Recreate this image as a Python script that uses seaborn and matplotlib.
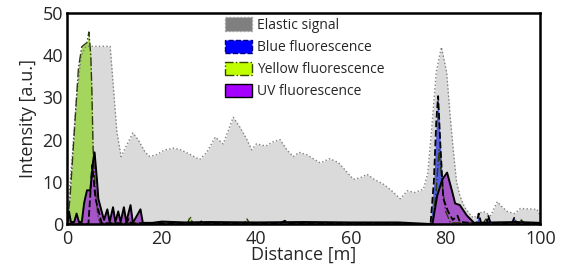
import numpy as np
import seaborn as sns
import matplotlib.pyplot as plt
from matplotlib.patches import Patch

sns.set_style('white')
plt.rcParams['font.family'] = ['Open Sans', 'DejaVu Sans']

# elastic signal
elastic_x = [0, 1, 2, 3, 4, 5, 9.1, 9.6, 10.5, 11.4, 12.5, 13.9, 15, 16.5, 17.5, 19, 20.5, 22.4,
             24, 26, 28, 29.5, 31.3, 33, 35.1, 36.5, 38, 39, 40, 42, 43.5, 45, 46.5, 47.8, 49,
             50.7, 52, 53.5, 55.5, 57.3, 59, 60.5, 62, 63.4, 65, 66.8, 68.5, 70.4, 71.9, 73.5,
             75.3, 76.2, 77, 78, 79.1, 80.2, 81, 81.6, 82.3, 83, 84, 85, 85.9, 87, 88, 89.5,
             90.9, 92, 93, 94.5, 95.8, 97.5, 99.3, 100]
elastic_y = [2, 15, 30, 40, 42.1, 42.1, 42.1, 35, 22, 16, 18.5, 21.6, 20, 17, 16, 16.5, 17.5, 18,
             17.6, 16.5, 15.3, 17, 20.6, 19, 25.3, 23, 20, 17.6, 19, 18.5, 19.5, 20, 17.5, 16, 17,
             16.4, 15.5, 14.5, 15.5, 14.6, 12.5, 10.6, 11, 11.8, 10.5, 9.5, 8, 6, 7.9, 7.5,
             8.3, 12, 22, 36, 41.9, 36, 25, 17.6, 10, 6.7, 4, 2.5, 1.4, 2.5, 3, 2,
             5.3, 4, 3, 2.5, 3.7, 3.6, 3.5, 2]

# yellow fluorescence
yellow_x = [0, 0.6, 1.7, 2.4, 3.1, 4.2, 4.6, 5.0, 5.2, 5.5, 5.9, 6.5, 7, 20, 25.5, 26, 26.5, 30,
            37.5, 38, 38.5, 60, 77.2, 78, 78.6, 79.2, 80, 81, 88, 88.5, 89, 95.5, 96, 96.5, 100]
yellow_y = [0, 6, 25, 37, 42, 43, 45.5, 40, 33, 17.6, 9, 2, 0.2, 0.3, 0.3, 1.8, 0.3, 0.3,
            0.3, 1.2, 0.3, 0.3, 0, 8, 17.6, 10, 3, 0.3, 0.3, 1.2, 0.3, 0.3, 1, 0.3, 0.3]

# blue fluorescence
blue_x = [0, 4.5, 5.3, 6, 7.3, 12.5, 13, 13.5, 28, 28.5, 29, 45, 46, 47, 76.8, 77.5, 78.0, 78.4,
          78.9, 79.5, 80.5, 81.5, 82.5, 83, 86.5, 87, 87.5, 88.7, 89, 89.5, 94, 94.5, 95, 100]
blue_y = [0, 0, 14, 6, 0.2, 0.2, 1.2, 0.2, 0.2, 0.8, 0.2, 0.2, 0.8, 0.2, 0, 10, 24, 30.3,
          18.3, 6, 3, 1, 2, 0.5, 0.2, 2.5, 0.2, 0.2, 2, 0.2, 0.2, 1.5, 0.2, 0.2]

# UV fluorescence
uv_x = [0, 0.4, 0.8, 1.5, 2, 2.5, 3.1, 3.6, 4.2, 4.9, 5.5, 5.8, 6.3, 6.6, 7.3, 7.8, 8.5, 9,
        9.7, 10.2, 10.8, 11.3, 12, 12.5, 13.4, 13.9, 15.5, 16, 18, 20, 25, 30, 40, 50, 60,
        70, 77.2, 78.2, 79.3, 80.3, 81.4, 82, 83, 84.5, 86, 90, 95, 100]
uv_y = [0, 3, 0.5, 0.5, 2.5, 0.5, 0.5, 5, 8, 8, 15, 17, 10.6, 6, 3, 1, 3.5, 0.5,
        4, 0.5, 3, 0.5, 4, 0.5, 4.5, 0.3, 3.5, 0.3, 0.3, 0.6, 0.4, 0.5, 0.4, 0.5, 0.4,
        0.4, 0, 6.7, 10.6, 12.2, 7.6, 4.9, 4.5, 2, 0.3, 0.4, 0.5, 0.3]

fig, ax = plt.subplots(figsize=(5.64, 2.76), dpi=100)

# fills first, edges on top
ax.fill_between(elastic_x, elastic_y, color='#dadada', lw=0)
ax.fill_between(yellow_x, yellow_y, color='#a4d65e', lw=0)
ax.fill_between(blue_x, blue_y, color='#5560e0', lw=0)
ax.fill_between(uv_x, uv_y, color='#a655c8', lw=0)

sns.lineplot(x=elastic_x, y=elastic_y, ax=ax, color='#808080', lw=1, ls=':')
sns.lineplot(x=yellow_x, y=yellow_y, ax=ax, color='#2f3a10', lw=1, ls='-.')
sns.lineplot(x=blue_x, y=blue_y, ax=ax, color='black', lw=1.3, ls='--')
sns.lineplot(x=uv_x, y=uv_y, ax=ax, color='black', lw=1.4)

handles = [
    Patch(facecolor='#7f7f7f', edgecolor='#a0a0a0', linestyle=':', label='Elastic signal'),
    Patch(facecolor='#0000ff', edgecolor='#00008b', linestyle='--', label='Blue fluorescence'),
    Patch(facecolor='#bfff00', edgecolor='#334400', linestyle='-.', label='Yellow fluorescence'),
    Patch(facecolor='#a600ff', edgecolor='black', label='UV fluorescence'),
]
ax.legend(handles=handles, loc='upper left', bbox_to_anchor=(0.334, 0.979), frameon=False,
          fontsize=10, handlelength=1.95, handleheight=1.08, labelspacing=0.5,
          handletextpad=0.35, borderpad=0, borderaxespad=0)

ax.set_xlim(0, 100)
ax.set_ylim(0, 50)
ax.set_xticks([0, 20, 40, 60, 80, 100])
ax.set_yticks([0, 10, 20, 30, 40, 50])
ax.tick_params(labelsize=13, length=0)
ax.tick_params(axis='x', pad=4)
ax.tick_params(axis='y', pad=3)
ax.set_xlabel('Distance [m]', fontsize=13, labelpad=-1)
ax.set_ylabel('Intensity [a.u.]', fontsize=13, labelpad=4)
for s in ax.spines.values():
    s.set_linewidth(1.8)
    s.set_color('black')

fig.subplots_adjust(left=0.119, right=0.958, top=0.953, bottom=0.188)
fig.savefig('out.png', dpi=100)
